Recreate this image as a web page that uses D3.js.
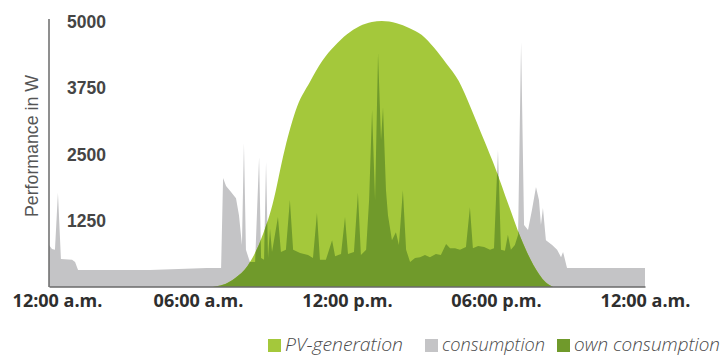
<!DOCTYPE html>
<html>
<head>
<meta charset="utf-8">
<script src="https://cdn.jsdelivr.net/npm/d3@7"></script>
<style>
  html, body { margin: 0; padding: 0; background: #fff; }
  svg { display: block; }
</style>
</head>
<body>
<svg id="chart" width="725" height="356"></svg>
<script>
// Hour of day for each PV-generation sample, and the power in W
const pvHours = [6.6, 7.0, 7.5, 8.0, 8.5, 9.0, 9.5, 10.0, 10.5, 11.0, 11.5, 12.0, 12.5, 13.0, 13.4,
                 14.0, 14.5, 15.0, 15.5, 16.0, 16.5, 17.0, 17.5, 18.0, 18.5, 19.0, 19.5, 20.0, 20.3];
const pvWatts = [0, 40, 170, 400, 850, 1550, 2600, 3400, 3850, 4250, 4530, 4750, 4900, 4980, 5000,
                 4960, 4870, 4740, 4500, 4200, 3870, 3350, 2780, 2200, 1550, 920, 420, 90, 0];

// Household consumption over the day (hour, W)
const consumptionHours = [
  0.00, 0.12, 0.24, 0.36, 0.48, 0.93, 1.05, 1.17, 4.07, 6.36, 6.93, 7.01, 7.13, 7.33, 7.53, 7.65,
  7.77, 7.85, 7.93, 8.09, 8.30, 8.46, 8.54, 8.66, 8.74, 8.82, 8.90, 8.98, 9.22, 9.34, 9.54, 9.70,
  9.83, 10.11, 10.43, 10.63, 10.79, 10.91, 11.15, 11.40, 11.52, 11.76, 11.92, 12.04, 12.28, 12.44,
  12.56, 12.77, 12.89, 13.01, 13.13, 13.25, 13.37, 13.45, 13.57, 13.65, 13.81, 13.97, 14.09, 14.25,
  14.38, 14.54, 14.74, 14.94, 15.14, 15.34, 15.58, 15.78, 15.99, 16.15, 16.35, 16.55, 16.79, 16.95,
  17.07, 17.28, 17.52, 17.76, 17.92, 18.08, 18.20, 18.36, 18.48, 18.60, 18.76, 18.89, 19.01, 19.13,
  19.29, 19.45, 19.61, 19.73, 19.81, 19.89, 20.01, 20.26, 20.46, 20.62, 20.70, 20.86, 24.00];
const consumptionWatts = [
  790, 715, 700, 1770, 525, 510, 470, 320, 320, 357, 357, 2050, 1900, 1785, 1670, 1350,
  790, 2700, 700, 470, 470, 2440, 545, 510, 2350, 545, 1100, 660, 1315, 660, 700, 1635,
  700, 640, 600, 545, 1390, 510, 510, 880, 580, 620, 1315, 620, 660, 1770,
  600, 700, 1635, 3330, 1635, 4400, 2760, 3380, 1820, 1350, 880, 1030, 790, 1820,
  700, 470, 545, 560, 600, 560, 620, 600, 810, 730, 730, 700, 750, 1500,
  730, 770, 750, 700, 730, 2575, 700, 680, 980, 700, 790, 980, 4600, 1165,
  1070, 1450, 1880, 1635, 1165, 1485, 880, 790, 700, 560, 660, 357, 357];

const yTicks = [1250, 2500, 3750, 5000];
const xTickHours = [0, 6, 12, 18, 24];
const xTickLabels = ["12:00 a.m.", "06:00 a.m.", "12:00 p.m.", "06:00 p.m.", "12:00 a.m."];
const legendLabels = ["PV-generation", "consumption", "own consumption"];

const colors = { pv: "#a4c83b", consumption: "#c4c4c6", own: "#709a2b", axis: "#6a6a6a" };

const svg = d3.select("#chart");

const x = d3.scaleLinear().domain([0, 24]).range([49, 645]);
const y = d3.scaleLinear().domain([0, 5000]).range([287, 21]);

const pv = pvHours.map((h, i) => ({ h, w: pvWatts[i] }));
const cons = consumptionHours.map((h, i) => ({ h, w: consumptionWatts[i] }));

const pvArea = d3.area().x(d => x(d.h)).y0(y(0)).y1(d => y(d.w)).curve(d3.curveMonotoneX);
const consArea = d3.area().x(d => x(d.h)).y0(y(0)).y1(d => y(d.w)).curve(d3.curveLinear);

// Own consumption is the part of the consumption covered by PV generation
svg.append("defs").append("clipPath").attr("id", "pv-clip")
  .append("path").attr("d", pvArea(pv));

svg.append("path").attr("d", consArea(cons)).attr("fill", colors.consumption);
svg.append("path").attr("d", pvArea(pv)).attr("fill", colors.pv);
svg.append("path").attr("d", consArea(cons)).attr("fill", colors.own).attr("clip-path", "url(#pv-clip)");

// Y axis: labels sit inside the plot, right of the axis line
const yAxis = svg.append("g").attr("transform", `translate(${x(0)},0)`)
  .call(d3.axisRight(y).tickValues(yTicks).tickSize(0).tickPadding(18).tickFormat(d3.format("d")));
yAxis.select(".domain").remove();
yAxis.selectAll("text")
  .attr("dy", "0.36em")
  .style("font-family", "'Liberation Sans', Arial, sans-serif")
  .style("font-size", "17.5px")
  .style("font-weight", "bold")
  .attr("fill", "#454545");

svg.append("line")
  .attr("x1", x(0)).attr("x2", x(0)).attr("y1", 19).attr("y2", y(0))
  .attr("stroke", colors.axis).attr("stroke-width", 1.5);

// X axis
const xAxis = svg.append("g").attr("transform", `translate(0,${y(0) - 0.5})`)
  .call(d3.axisBottom(x).tickValues(xTickHours).tickSize(0).tickPadding(8)
    .tickFormat((d, i) => xTickLabels[i]));
xAxis.select(".domain").attr("stroke", colors.axis).attr("stroke-width", 1.5);
xAxis.selectAll("text")
  .style("font-family", "'Open Sans', sans-serif")
  .style("font-size", "18px")
  .style("font-weight", "bold")
  .attr("fill", "#2e2e2e")
  .attr("dx", (d, i) => i === 0 ? 8 : 0);

svg.append("text")
  .attr("transform", "translate(38,146) rotate(-90)")
  .attr("text-anchor", "middle")
  .style("font-family", "'Liberation Sans', Arial, sans-serif")
  .style("font-size", "17.75px")
  .attr("fill", "#555")
  .text("Performance in W");

// Legend: swatch, then an italic label squeezed to a condensed width
const legendColors = [colors.pv, colors.consumption, colors.own];
const legendX = [268, 425, 557];
const legendWidths = [118, 103, 146];
const legend = svg.append("g");
legendLabels.forEach((label, i) => {
  legend.append("rect")
    .attr("x", legendX[i]).attr("y", 339).attr("width", 13).attr("height", 13)
    .attr("fill", legendColors[i]);
  legend.append("text")
    .attr("x", legendX[i] + 17).attr("y", 350.5)
    .attr("textLength", legendWidths[i])
    .attr("lengthAdjust", "spacingAndGlyphs")
    .style("font-family", "'Open Sans', sans-serif")
    .style("font-size", "19px")
    .style("font-style", "italic")
    .style("font-weight", 300)
    .attr("fill", "#4a4a4a")
    .text(label);
});
</script>
</body>
</html>
